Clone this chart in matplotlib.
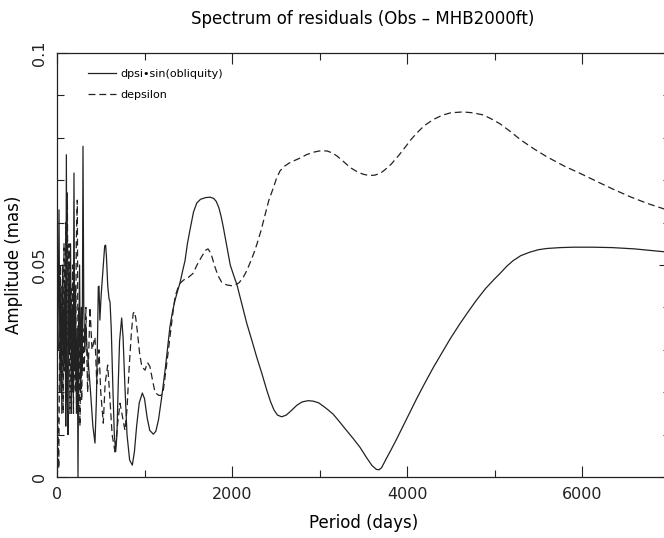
import matplotlib
matplotlib.use("Agg")
import matplotlib.pyplot as plt
from matplotlib.ticker import MultipleLocator

plt.rcParams['font.family'] = ['DejaVu Sans']
plt.rcParams['lines.scale_dashes'] = False

# ---- data ----
solid_period = [0, 10, 23, 35, 45, 55, 65, 78, 90, 100, 107, 116, 126, 135, 145, 155, 165, 175, 185,
                194, 203, 212, 222, 232, 240, 248, 258, 268, 278, 288, 297, 306, 318, 330, 340, 354,
                380, 410, 434, 450, 465, 472, 480, 490, 505, 530, 545, 556, 565, 580, 595, 606, 620,
                640, 655, 671, 685, 700, 715, 739, 755, 775, 800, 830, 861, 885, 910, 940, 975, 1000,
                1030, 1060, 1101, 1130, 1160, 1197, 1240, 1291, 1320, 1349, 1380, 1406, 1440, 1463,
                1490, 1520, 1560, 1597, 1640, 1700, 1749, 1790, 1820, 1850, 1875, 1900, 1940, 1980,
                2020, 2057, 2110, 2168, 2230, 2282, 2340, 2397, 2440, 2480, 2520, 2568, 2620, 2680,
                2740, 2800, 2870, 2926, 2990, 3050, 3100, 3157, 3230, 3300, 3380, 3463, 3540, 3600,
                3650, 3680, 3710, 3760, 3820, 3883, 3960, 4040, 4111, 4200, 4300, 4400, 4491, 4600,
                4700, 4797, 4900, 5000, 5063, 5140, 5211, 5300, 5400, 5500, 5600, 5750, 5900, 6126,
                6350, 6600, 6800, 7000]
solid_amp = [0.040, 0.030, 0.063, 0.020, 0.045, 0.015, 0.050, 0.025, 0.045, 0.012, 0.076, 0.020,
             0.010, 0.050, 0.030, 0.055, 0.015, 0.040, 0.020, 0.0717, 0.025, 0.045, 0.015, 0.035,
             0.000, 0.030, 0.050, 0.020, 0.040, 0.025, 0.078, 0.040, 0.030, 0.036, 0.031, 0.028,
             0.021, 0.012, 0.008, 0.018, 0.035, 0.0449, 0.045, 0.037, 0.043, 0.050, 0.0545, 0.0547,
             0.052, 0.045, 0.042, 0.0413, 0.035, 0.020, 0.010, 0.006, 0.010, 0.022, 0.032, 0.0375,
             0.033, 0.022, 0.010, 0.004, 0.0028, 0.006, 0.012, 0.0175, 0.0198, 0.0185, 0.014,
             0.011, 0.0101, 0.0108, 0.0135, 0.0189, 0.026, 0.0355, 0.039, 0.0417, 0.0440, 0.0458,
             0.049, 0.0510, 0.055, 0.0583, 0.0625, 0.0646, 0.0655, 0.0659, 0.066, 0.0657, 0.0650,
             0.0635, 0.0615, 0.059, 0.0545, 0.050, 0.0475, 0.0453, 0.041, 0.0363, 0.032, 0.0283,
             0.0245, 0.0205, 0.0178, 0.0158, 0.0146, 0.0142, 0.0146, 0.0157, 0.0169, 0.0177,
             0.0180, 0.0179, 0.0175, 0.0166, 0.0158, 0.0148, 0.0130, 0.0112, 0.0092, 0.0070,
             0.0045, 0.0027, 0.0018, 0.0017, 0.0022, 0.0042, 0.0065, 0.0090, 0.0122, 0.0155,
             0.0185, 0.0220, 0.0258, 0.0293, 0.0325, 0.0360, 0.0390, 0.0418, 0.0445, 0.0467,
             0.0480, 0.0497, 0.0510, 0.0522, 0.0530, 0.0536, 0.0539, 0.0541, 0.0542, 0.0542,
             0.0541, 0.0538, 0.0534, 0.0530]

dash_period = [0, 8, 20, 30, 40, 50, 60, 70, 80, 90, 100, 110, 118, 128, 138, 148, 158, 168, 178,
               188, 198, 210, 220, 232, 242, 252, 262, 272, 282, 295, 310, 330, 350, 377, 400, 434,
               455, 480, 500, 529, 550, 579, 600, 630, 663, 690, 720, 750, 777, 800, 825, 850, 870,
               884, 900, 920, 945, 970, 1006, 1035, 1063, 1090, 1120, 1158, 1185, 1211, 1250, 1291,
               1320, 1349, 1380, 1406, 1450, 1497, 1554, 1600, 1654, 1700, 1726, 1760, 1806, 1840,
               1880, 1939, 2000, 2034, 2080, 2126, 2170, 2206, 2250, 2286, 2330, 2380, 2420, 2469,
               2510, 2549, 2600, 2650, 2720, 2777, 2850, 2930, 3000, 3086, 3150, 3200, 3280, 3350,
               3430, 3500, 3570, 3634, 3700, 3750, 3820, 3900, 3980, 4050, 4130, 4200, 4300, 4400,
               4500, 4640, 4750, 4869, 4960, 5063, 5180, 5300, 5450, 5600, 5800, 6000, 6200, 6354,
               6550, 6750, 7000]
dash_amp = [0.035, 0.015, 0.002, 0.030, 0.050, 0.020, 0.045, 0.015, 0.055, 0.025, 0.060, 0.020,
            0.067, 0.030, 0.055, 0.015, 0.045, 0.025, 0.050, 0.015, 0.040, 0.020, 0.055, 0.0653,
            0.020, 0.040, 0.012, 0.030, 0.018, 0.035, 0.025, 0.040, 0.020, 0.040, 0.030, 0.033,
            0.022, 0.030, 0.020, 0.0127, 0.022, 0.0264, 0.020, 0.010, 0.0059, 0.012, 0.0174, 0.014,
            0.011, 0.016, 0.026, 0.034, 0.0385, 0.039, 0.0375, 0.034, 0.029, 0.026, 0.0252, 0.027,
            0.026, 0.023, 0.020, 0.0193, 0.0192, 0.0198, 0.026, 0.0331, 0.038, 0.0425, 0.0445,
            0.0457, 0.0465, 0.047, 0.048, 0.050, 0.052, 0.0535, 0.0538, 0.0527, 0.0495, 0.0475,
            0.046, 0.0453, 0.0451, 0.0453, 0.0458, 0.047, 0.0487, 0.0505, 0.0528, 0.055, 0.058,
            0.062, 0.0652, 0.068, 0.0705, 0.0722, 0.0733, 0.074, 0.0747, 0.0752, 0.076, 0.0766,
            0.0769, 0.0769, 0.0764, 0.0757, 0.0743, 0.073, 0.072, 0.0714, 0.0711, 0.0712, 0.0717,
            0.0725, 0.0738, 0.0757, 0.0778, 0.0797, 0.0815, 0.0829, 0.0843, 0.0853, 0.0859,
            0.0861, 0.0859, 0.0854, 0.0845, 0.0833, 0.0815, 0.0795, 0.0774, 0.0755, 0.0733,
            0.0714, 0.0694, 0.0679, 0.0661, 0.0645, 0.0628]

series_labels = ["dpsi\u2022sin(obliquity)", "depsilon"]
title = "Spectrum of residuals (Obs \u2013 MHB2000ft)"
xlabel = "Period (days)"
ylabel = "Amplitude (mas)"
xticks = [0, 2000, 4000, 6000]
yticks = [0, 0.05, 0.1]
ytick_labels = ["0", "0.05", "0.1"]

# ---- figure ----
W, H = 664, 538
fig = plt.figure(figsize=(W / 100, H / 100), dpi=100)
ax = fig.add_axes([57 / W, (H - 477) / H, 612.5 / W, 424 / H])

col = "#222222"
ax.plot(solid_period, solid_amp, color=col, lw=0.9, label=series_labels[0])
ax.plot(dash_period, dash_amp, color=col, lw=0.9, linestyle=(0, (5, 2.8)), label=series_labels[1])

ax.set_xlim(0, 7000)
ax.set_ylim(0, 0.1)
ax.set_xticks(xticks)
ax.set_xticklabels([str(t) for t in xticks])
ax.xaxis.set_minor_locator(MultipleLocator(1000))
ax.set_yticks(yticks)
ax.set_yticklabels(ytick_labels, rotation=90, va='center')
ax.yaxis.set_minor_locator(MultipleLocator(0.01))

ax.tick_params(which='both', direction='in', top=True, right=True, colors=col, labelsize=11.5)
ax.tick_params(which='major', length=8, width=0.8)
ax.tick_params(which='minor', length=5, width=0.8)
ax.tick_params(axis='x', pad=7)
ax.tick_params(axis='y', pad=7)
for s in ax.spines.values():
    s.set_color(col)
    s.set_linewidth(0.9)

ax.set_xlabel(xlabel, fontsize=12, labelpad=9)
ax.set_ylabel(ylabel, fontsize=12, labelpad=7)
fig.text(363 / W, 1 - 19 / H, title, ha='center', va='center', fontsize=12)

leg = ax.legend(loc='upper left', bbox_to_anchor=(0.035, 0.985), frameon=False, fontsize=8,
                handlelength=2.5, handletextpad=0.4, labelspacing=0.95)

fig.savefig("out.png", dpi=100)
